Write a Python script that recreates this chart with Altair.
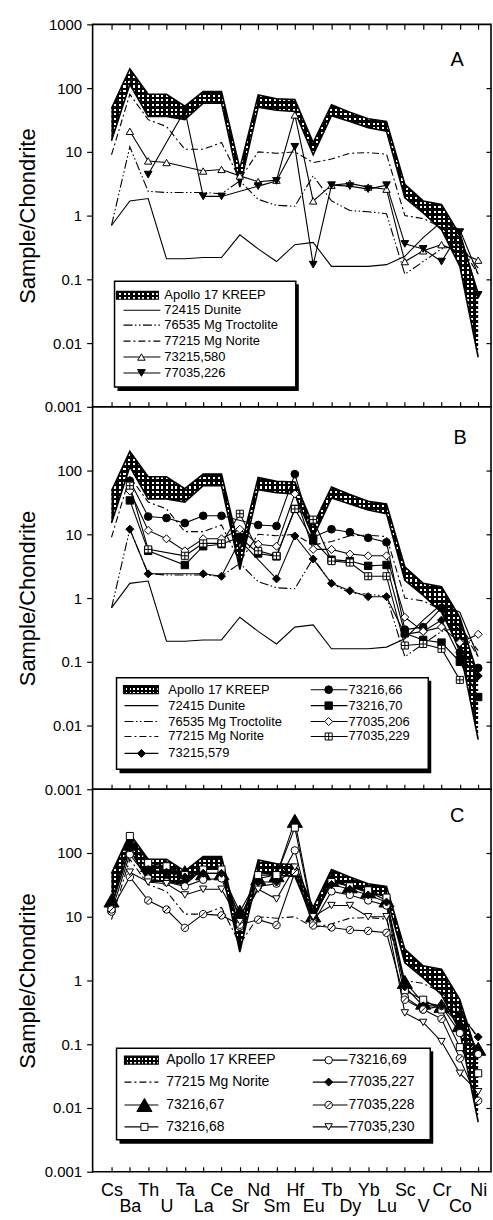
import altair as alt
import pandas as pd

# Element order along the x axis (chondrite-normalised spider diagram)
ELEMENTS = ["Cs", "Ba", "Th", "U", "Ta", "La", "Ce", "Sr", "Nd", "Sm", "Hf",
            "Eu", "Tb", "Dy", "Yb", "Lu", "Sc", "V", "Cr", "Co", "Ni"]

# Apollo 17 KREEP envelope (upper / lower bound)
KREEP_HIGH = [48, 200, 80, 80, 52, 88, 88, 5.5, 78, 68, 66, 14, 55, 42, 33, 30, 3.1, 1.7, 1.5, 0.5, 0.06]
KREEP_LOW = [15, 115, 36, 36, 32, 58, 58, 2.8, 50, 45, 43, 9, 37, 30, 24, 21, 1.9, 1.1, 0.6, 0.16, 0.006]

# Reference rocks
DUNITE_72415 = [0.7, 1.7, 1.85, 0.21, 0.21, 0.22, 0.22, 0.5, 0.3, 0.19, 0.35, 0.38, 0.16, 0.16, 0.16, 0.17, 0.23, 0.45, 0.8, 0.6, 0.12]
TROCTOLITE_76535 = [0.7, 12, 2.4, 2.3, 2.3, 2.3, 2.2, 3.5, 1.8, 1.45, 1.4, 4.2, 1.7, 1.2, 1.15, 1.07, 0.12, 0.19, 0.3, 0.35, 0.15]
NORITE_77215 = [9, 80, 32, 25, 11, 11, 14, 3.7, 10, 9.5, 10, 6.8, 7.7, 9.5, 9.7, 9.2, 1.0, 0.9, 0.65, 0.35, 0.12]

# Samples, panel A
S73215_580 = [None, 21, 7.2, 6.8, None, 5.0, 5.3, 4.2, 3.4, 3.6, 38, 1.7, 3.0, 3.2, 2.8, 2.6, 0.19, 0.28, 0.35, None, 0.2]
S77035_226 = [None, None, 4.4, None, 45, 2.0, 2.0, None, 2.9, 3.5, 12, 0.17, 3.0, 2.9, 2.6, 3.0, 0.36, 0.3, 0.19, 0.55, 0.057]

# Samples, panel B
S73215_579 = [None, 12, 2.4, None, None, 2.4, 2.2, 8, None, 2.0, 9.4, 4.1, 1.7, 1.3, 1.05, 1.05, 0.27, 0.3, 0.45, 0.12, 0.06]
S73216_66 = [None, 69, 19, 18, 15, 19.5, 19.5, None, 14, 13.5, 88, 9, 12, 10.8, 8.8, 7.5, 0.32, 0.35, 0.7, 0.14, 0.08]
S73216_70 = [None, 34, 5.5, None, 3.3, 6.5, 7, 9, 5, 4.5, 25, 8, 4, 3.8, 3.2, 3.3, 0.28, 0.22, 0.2, 0.1, 0.028]
S77035_206 = [None, 48, 11.5, 8.5, 5.5, 8.5, 8.5, 12, 7, 6.5, 43, 5.8, 5.8, 4.9, 4.6, 4.6, 0.5, 0.3, 0.35, 0.2, 0.27]
S77035_229 = [None, 58, 5.8, None, 4.6, 7.2, 7.2, 21, 5.5, 4.6, 25, 17, 3.8, 3.6, 2.2, 2.2, 0.18, 0.19, 0.16, 0.052, None]

# Samples, panel C
S73216_67 = [18, 140, 65, 60, 50, 48, 48, 12, 40, 45, 320, 10.5, 38, 30, 25, 18, 0.95, 0.45, 0.4, 0.2, 0.085]
S73216_68 = [13, 185, 70, 62, 45, 55, 55, 9, 45, 45, 250, 9.5, 35, 30, 26, 20, 0.7, 0.5, 0.35, 0.09, 0.035]
S73216_69 = [12, 95, 40, 35, 30, 38, 40, 7, 30, 33, 110, 8, 25, 22, 18, 15, 0.55, 0.35, 0.4, 0.15, 0.07]
S77035_227 = [None, 120, 55, 50, 42, 48, 48, 10, 35, 35, 55, 10, 32, 27, 22, 17, 0.8, 0.4, 0.4, 0.3, 0.13]
S77035_228 = [13, 42, 18, 13, 6.7, 11, 10.5, 7.5, 9, 7.4, 50, 7.3, 6.8, 6.2, 6.0, 5.6, 0.5, 0.35, 0.25, 0.06, 0.013]
S77035_230 = [None, 50, 35, 33, 22, 27, 27, 8.4, 27, 19, 60, 10, 15, 15, 10, 10, 0.31, 0.22, 0.11, 0.035, 0.018]

KREEP = "Apollo 17 KREEP"
SERIES = {
    "72415 Dunite": DUNITE_72415,
    "76535 Mg Troctolite": TROCTOLITE_76535,
    "77215 Mg Norite": NORITE_77215,
    "73215,580": S73215_580,
    "77035,226": S77035_226,
    "73215,579": S73215_579,
    "73216,66": S73216_66,
    "73216,70": S73216_70,
    "77035,206": S77035_206,
    "77035,229": S77035_229,
    "73216,67": S73216_67,
    "73216,68": S73216_68,
    "73216,69": S73216_69,
    "77035,227": S77035_227,
    "77035,228": S77035_228,
    "77035,230": S77035_230,
}

FONT = "Liberation Sans"
NARROW = "Liberation Sans Narrow, Liberation Sans"
LINE_W = 1.1
SQUARE_PLUS = "M-1,-1H1V1H-1Z M-1,0H1 M0,-1V1"
CIRCLE_SLASH = "M1,0A1,1,0,1,1,-1,0A1,1,0,1,1,1,0Z M-0.7,0.7L0.7,-0.7"

STYLE = {
    "72415 Dunite": {},
    "76535 Mg Troctolite": {"dash": [9, 2.5, 1.5, 2.5, 1.5, 2.5]},
    "77215 Mg Norite": {"dash": [7, 3, 2, 3]},
    "73215,580": {"shape": "triangle-up", "fill": "white", "size": 55},
    "77035,226": {"shape": "triangle-down", "fill": "black", "size": 60},
    "73215,579": {"shape": "diamond", "fill": "black", "size": 65},
    "73216,66": {"shape": "circle", "fill": "black", "size": 60},
    "73216,70": {"shape": "square", "fill": "black", "size": 55},
    "77035,206": {"shape": "diamond", "fill": "white", "size": 65},
    "77035,229": {"shape": SQUARE_PLUS, "fill": "white", "size": 50},
    "73216,67": {"shape": "triangle-up", "fill": "black", "size": 230},
    "73216,68": {"shape": "square", "fill": "white", "size": 50},
    "73216,69": {"shape": "circle", "fill": "white", "size": 55},
    "77035,227": {"shape": "diamond", "fill": "black", "size": 65},
    "77035,228": {"shape": CIRCLE_SLASH, "fill": "white", "size": 55},
    "77035,230": {"shape": "triangle-down", "fill": "white", "size": 55},
}

W, H = 400, 384
XSCALE = alt.Scale(domain=[-1.03, 20.7], nice=False, zero=False)
YSCALE = alt.Scale(type="log", domain=[0.001, 1000], nice=False)
DECADES = [0.001, 0.01, 0.1, 1, 10, 100, 1000]


def stripes(n, horizontal, duty=0.55):
    """Hard-edged stripe gradient; two crossed layers give the dotted KREEP fill."""
    stops = []
    for k in range(n):
        a, b, c = k / n, (k + duty) / n, (k + 1) / n
        stops += [{"offset": round(a, 5), "color": "black"},
                  {"offset": round(b, 5), "color": "black"},
                  {"offset": round(b, 5), "color": "rgba(0,0,0,0)"},
                  {"offset": round(min(c, 1.0), 5), "color": "rgba(0,0,0,0)"}]
    return {"gradient": "linear", "x1": 0, "y1": 0,
            "x2": 0 if horizontal else 1, "y2": 1 if horizontal else 0,
            "stops": stops}


band_df = pd.DataFrame({"idx": list(range(len(ELEMENTS))), "element": ELEMENTS,
                        "lo": KREEP_LOW, "hi": KREEP_HIGH})
X_PLAIN = alt.X("idx:Q", scale=XSCALE, axis=None)


def band_layers():
    base = alt.Chart(band_df).encode(
        x=X_PLAIN, y=alt.Y("lo:Q", scale=YSCALE, axis=None), y2="hi:Q")
    layers = [
        base.mark_area(fill="white", opacity=1),
        base.mark_area(fill=stripes(78, False), opacity=1),
        base.mark_area(fill=stripes(62, True), opacity=1),
    ]
    for col in ["hi", "lo"]:
        layers.append(alt.Chart(band_df).mark_line(color="black", strokeWidth=1.6).encode(
            x=X_PLAIN, y=alt.Y(f"{col}:Q", scale=YSCALE, axis=None)))
    return layers


def series_layers(name):
    df = pd.DataFrame({"idx": list(range(len(ELEMENTS))), "element": ELEMENTS,
                       "v": SERIES[name]}).dropna()
    st = STYLE[name]
    base = alt.Chart(df).encode(x=X_PLAIN, y=alt.Y("v:Q", scale=YSCALE, axis=None))
    line_kw = {"color": "black", "strokeWidth": LINE_W}
    if "dash" in st:
        line_kw["strokeDash"] = st["dash"]
    out = [base.mark_line(**line_kw)]
    if "shape" in st:
        out.append(base.mark_point(shape=st["shape"], filled=True, fill=st["fill"],
                                   stroke="black", strokeWidth=1, size=st["size"], opacity=1))
    return out


def axis_layer(x_axis, y_axis):
    return alt.Chart(band_df).mark_point(opacity=0).encode(
        x=alt.X("idx:Q", scale=XSCALE, axis=x_axis),
        y=alt.Y("hi:Q", scale=YSCALE, axis=y_axis))


def left_axis(values):
    return alt.Axis(orient="left", values=values, format="~g", tickSize=6, labelPadding=5,
                    domain=False, grid=False, labelFont=FONT, labelFontSize=15,
                    labelColor="black", tickColor="black", tickWidth=1.2,
                    title="Sample/Chondrite", titleFont=FONT, titleFontSize=22,
                    titleFontWeight="normal", titlePadding=5, titleColor="black")


RIGHT_AXIS = alt.Axis(orient="right", values=[0.01, 0.1, 1, 10, 100], tickSize=5, offset=-5,
                      labels=False, domain=False, grid=False, title=None,
                      tickColor="black", tickWidth=1.2)


def tick_axis(orient):
    return alt.Axis(orient=orient, values=list(range(len(ELEMENTS))), tickSize=5, offset=-5,
                    labels=False, domain=False, grid=False, title=None,
                    tickColor="black", tickWidth=1.2)


LABEL_AXIS = alt.Axis(
    orient="bottom", values=list(range(len(ELEMENTS))), ticks=False, tickSize=0,
    domain=False, grid=False, title=None, labelOverlap=False, labelFlush=False,
    labelExpr="[" + ",".join(f"'{e}'" for e in ELEMENTS) + "][datum.value]",
    labelBaseline="alphabetic", labelFont=NARROW, labelFontSize=18, labelColor="black",
    labelPadding={"condition": {"test": "datum.value % 2 == 1", "value": 40}, "value": 24})


def legend_layers(spec):
    x0, y0, x1, y1 = spec["box"]
    one = pd.DataFrame({"k": [0]})
    layers = [
        alt.Chart(one).mark_rect(fill="black").encode(
            x=alt.value(x0 + 3), x2=alt.value(x1 + 3), y=alt.value(y0 + 3), y2=alt.value(y1 + 4)),
        alt.Chart(one).mark_rect(fill="white", stroke="black", strokeWidth=1.5).encode(
            x=alt.value(x0), x2=alt.value(x1), y=alt.value(y0), y2=alt.value(y1)),
    ]
    fs = spec["font_size"]
    for name, col, row in spec["entries"]:
        lx0, lx1, mx, tx = spec["cols"][col]
        yy = spec["rows"][row]
        base = alt.Chart(pd.DataFrame({"label": [name]}))
        if name == KREEP:
            rx0, rx1 = spec["kreep_x"]
            pos = dict(x=alt.value(rx0), x2=alt.value(rx1), y=alt.value(yy - 4), y2=alt.value(yy + 4))
            layers += [
                base.mark_rect(fill="white").encode(**pos),
                base.mark_rect(fill=stripes(9, False)).encode(**pos),
                base.mark_rect(fill=stripes(2, True)).encode(**pos),
                base.mark_rect(fill=None, stroke="black", strokeWidth=1.2, fillOpacity=0).encode(**pos),
            ]
        else:
            st = STYLE[name]
            rule_kw = {"color": "black", "strokeWidth": LINE_W}
            if "dash" in st:
                rule_kw["strokeDash"] = st["dash"]
            layers.append(base.mark_rule(**rule_kw).encode(
                x=alt.value(lx0), x2=alt.value(lx1), y=alt.value(yy)))
            if "shape" in st:
                layers.append(base.mark_point(
                    shape=st["shape"], filled=True, fill=st["fill"], stroke="black",
                    strokeWidth=1, size=st["size"], opacity=1).encode(
                    x=alt.value(mx), y=alt.value(yy)))
        layers.append(base.mark_text(align="left", baseline="middle", fontSize=fs, font=FONT,
                                     color="black").encode(
            x=alt.value(tx), y=alt.value(yy), text="label:N"))
    return layers


def panel(names, letter, letter_xy, legend, y_values, second_x_axis):
    layers = [axis_layer(tick_axis("bottom"), left_axis(y_values)),
              axis_layer(second_x_axis, RIGHT_AXIS)]
    layers += band_layers()
    lines, points = [], []
    for n in names:
        sl = series_layers(n)
        lines.append(sl[0])
        points += sl[1:]
    layers += lines + points
    layers += legend_layers(legend)
    layers.append(alt.Chart(pd.DataFrame({"letter": [letter]})).mark_text(
        fontSize=20, font=FONT, color="black", align="center", baseline="middle").encode(
        x=alt.value(letter_xy[0]), y=alt.value(letter_xy[1]), text="letter:N"))
    return (alt.layer(*layers)
            .resolve_scale(x="shared", y="shared")
            .resolve_axis(x="independent", y="independent")
            .properties(width=W, height=H))


LEGEND_A = {
    "box": (22, 258, 204, 364), "font_size": 13,
    "rows": [272, 287, 302, 318, 334, 350],
    "cols": [(31, 68, 49, 72)], "kreep_x": (24, 66),
    "entries": [(KREEP, 0, 0), ("72415 Dunite", 0, 1), ("76535 Mg Troctolite", 0, 2),
                ("77215 Mg Norite", 0, 3), ("73215,580", 0, 4), ("77035,226", 0, 5)],
}
LEGEND_B = {
    "box": (24, 272, 337, 364), "font_size": 13,
    "rows": [284, 300, 316, 331, 348],
    "cols": [(32, 66, 49, 76), (219, 256, 237, 257)], "kreep_x": (31, 66),
    "entries": [(KREEP, 0, 0), ("72415 Dunite", 0, 1), ("76535 Mg Troctolite", 0, 2),
                ("77215 Mg Norite", 0, 3), ("73215,579", 0, 4),
                ("73216,66", 1, 0), ("73216,70", 1, 1), ("77035,206", 1, 2), ("77035,229", 1, 3)],
}
LEGEND_C = {
    "box": (24, 260, 339, 352), "font_size": 14,
    "rows": [272, 294, 317, 339],
    "cols": [(32, 66, 52, 74), (221, 256, 237, 257)], "kreep_x": (32, 66),
    "entries": [(KREEP, 0, 0), ("77215 Mg Norite", 0, 1), ("73216,67", 0, 2), ("73216,68", 0, 3),
                ("73216,69", 1, 0), ("77035,227", 1, 1), ("77035,228", 1, 2), ("77035,230", 1, 3)],
}

panel_a = panel(["72415 Dunite", "76535 Mg Troctolite", "77215 Mg Norite", "73215,580", "77035,226"],
                "A", (366, 36), LEGEND_A, DECADES, tick_axis("top"))
panel_b = panel(["72415 Dunite", "76535 Mg Troctolite", "77215 Mg Norite", "73215,579",
                 "73216,66", "73216,70", "77035,206", "77035,229"],
                "B", (369, 31), LEGEND_B, DECADES[:-1], None)
panel_c = panel(["77215 Mg Norite", "73216,67", "73216,68", "73216,69",
                 "77035,227", "77035,228", "77035,230"],
                "C", (366, 27), LEGEND_C, DECADES[:-1], LABEL_AXIS)

chart = (alt.vconcat(panel_a, panel_b, panel_c, spacing=0, bounds="flush")
         .properties(padding={"left": 15, "top": 14, "right": 0, "bottom": 0},
                     background="white")
         .configure_view(stroke="black", strokeWidth=1.6))

chart.save("out.html", embed_options={"renderer": "svg", "actions": False})
